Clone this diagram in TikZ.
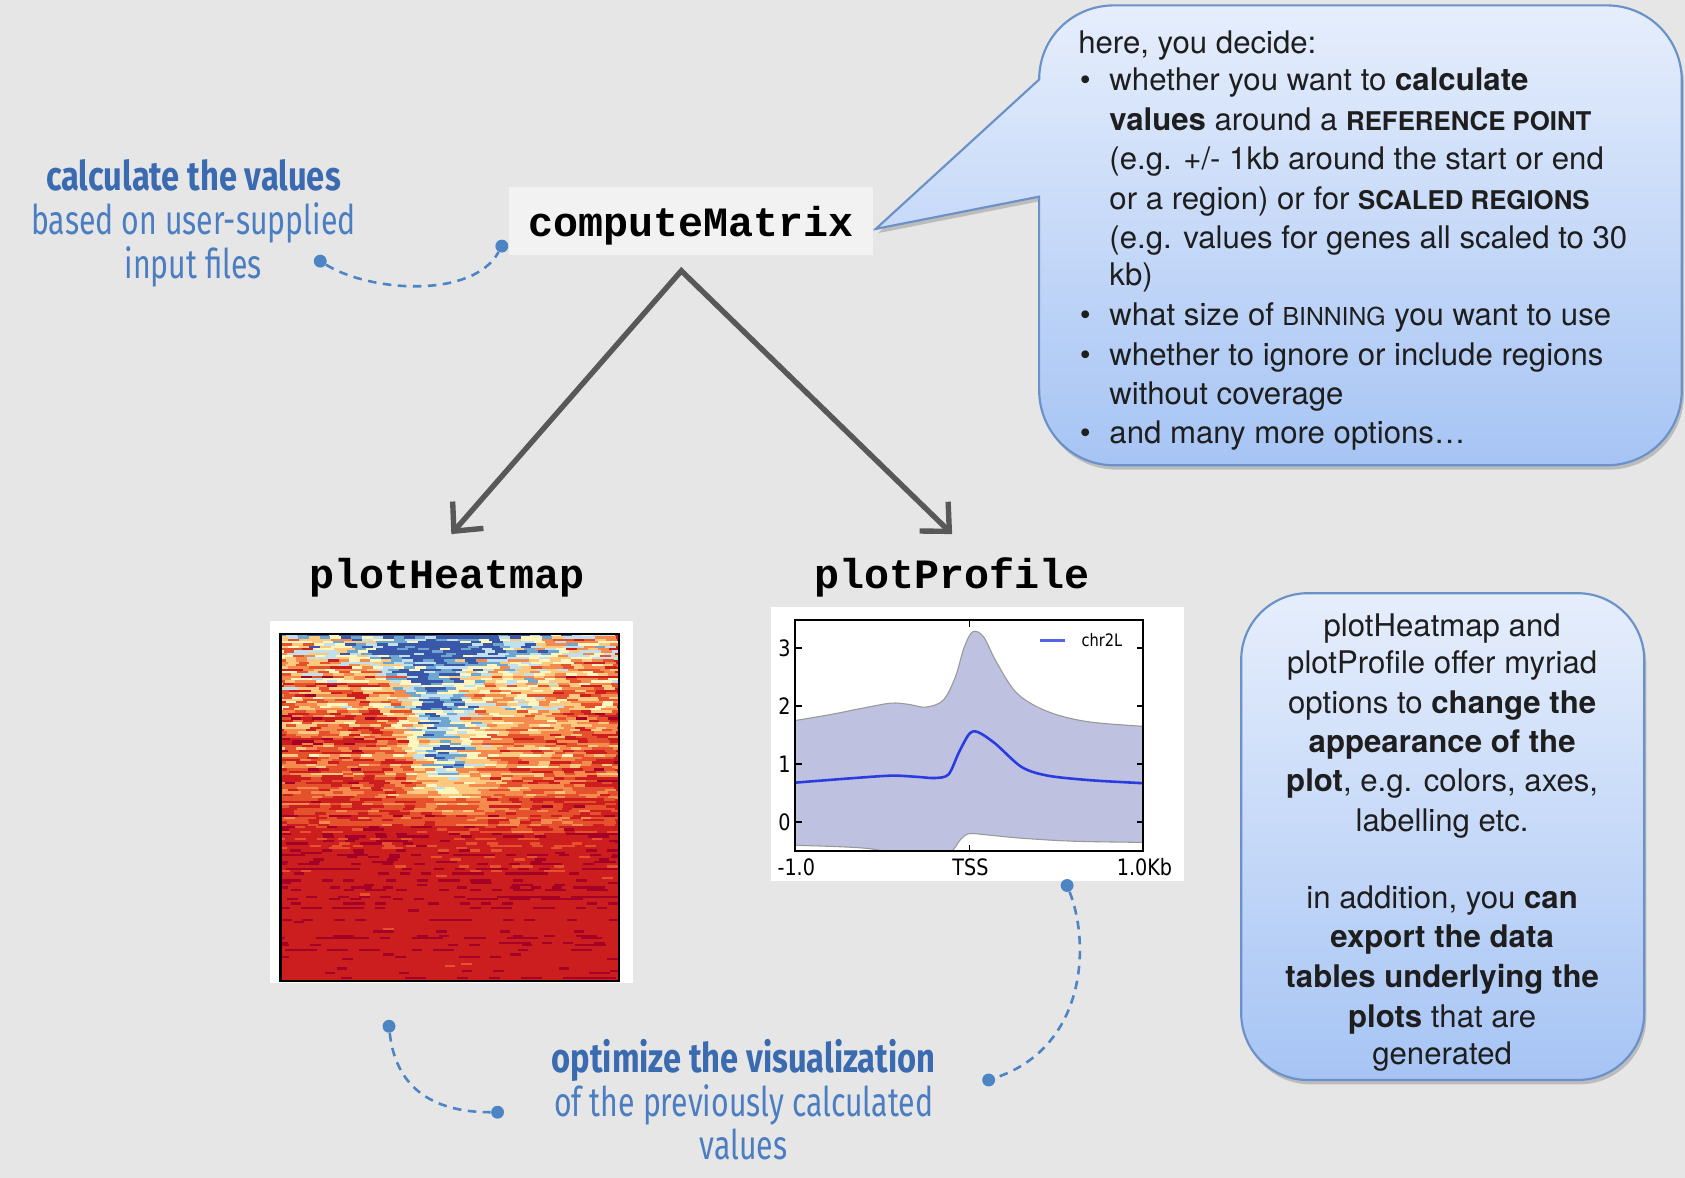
\documentclass[tikz,border=0pt]{standalone}
\usepackage{fontspec}
\setmainfont{TeX Gyre Heros}
\newfontfamily\monofont{Liberation Mono}
\newfontfamily\handfont[FakeStretch=0.8]{Fira Sans}
\newfontfamily\handlightfont[FakeStretch=0.74]{Fira Sans}
\newfontfamily\plotfont[FakeStretch=0.85]{DejaVu Sans}
\usetikzlibrary{arrows.meta}
\definecolor{bggray}{HTML}{E6E6E6}
\definecolor{boxgray}{HTML}{F2F2F2}
\definecolor{arrowgray}{HTML}{585858}
\definecolor{bubtop}{HTML}{E6EEFC}
\definecolor{bubbot}{HTML}{A6C4F4}
\definecolor{bubedge}{HTML}{6A92C8}
\definecolor{txtdark}{HTML}{1E1E1E}
\definecolor{handbold}{HTML}{3A6AB0}
\definecolor{handlight}{HTML}{4B7DC2}
\definecolor{dashblue}{HTML}{4D84C4}
\definecolor{bandfill}{HTML}{BEC1DF}
\definecolor{meanblue}{HTML}{2A3CE0}
\definecolor{hm0}{HTML}{A50026}
\definecolor{hm1}{HTML}{CC1E1E}
\definecolor{hm2}{HTML}{E5502D}
\definecolor{hm3}{HTML}{F58A4E}
\definecolor{hm4}{HTML}{FCC97E}
\definecolor{hm5}{HTML}{FEF6BE}
\definecolor{hm6}{HTML}{BFE0EC}
\definecolor{hm7}{HTML}{6EA6D0}
\definecolor{hm8}{HTML}{3A58AA}
\tikzset{
  mono/.style={font=\monofont\bfseries\fontsize{19.4}{22}\selectfont, text=black},
  cmbox/.style={mono, fill=boxgray, minimum width=169pt, minimum height=31.5pt, inner sep=0pt, text height=16pt, text depth=1.5pt},
  arr/.style={draw=arrowgray, line width=2.5pt, line join=miter,
     {Straight Barb[length=10pt,width=19pt]}-{Straight Barb[length=10pt,width=19pt]}},
  bubble/.style={draw=bubedge, line width=1pt, top color=bubtop, bottom color=bubbot},
  bubshadow/.style={fill=black, opacity=0.18},
  btxt/.style={font=\fontsize{14.5}{18}\selectfont, text=txtdark, inner sep=0pt},
  handb/.style={font=\handfont\bfseries\fontsize{19}{22}\selectfont, text=handbold, inner sep=0pt, anchor=base},
  handl/.style={font=\handlightfont\fontsize{19}{22}\selectfont, text=handlight, inner sep=0pt, anchor=base},
  dot/.style={circle, fill=dashblue, inner sep=0pt, minimum size=6pt},
  dashconn/.style={draw=dashblue, line width=1.2pt, dash pattern=on 4pt off 3pt},
  ptick/.style={font=\plotfont\fontsize{10.5}{12}\selectfont, text=black, inner sep=1pt},
  bandedge/.style={draw=black!40, line width=0.5pt},
}
\begin{document}
\begin{tikzpicture}[x=0.5pt,y=-0.5pt]
\useasboundingbox (0,0) rectangle (1568,1096);
\fill[bggray] (0,0) rectangle (1568,1096);

% ---------- big speech bubble ----------
\def\bubbleonepath{(815,213) -- (967,74) .. controls (967,35) and (998,5) .. (1037,5) -- (1495,5) .. controls (1534,5) and (1565,36) .. (1565,75) -- (1565,363) .. controls (1565,402) and (1534,433) .. (1495,433) -- (1037,433) .. controls (998,433) and (967,402) .. (967,363) -- (967,183) -- cycle}
\fill[bubshadow] [shift={(2,4)}] \bubbleonepath;
\path[bubble] \bubbleonepath;

\node[btxt, anchor=base west] (b0) at (1003,50) {here, you decide:};
\node[btxt, anchor=base] (bu1) at (1010,84) {\textbullet};
\node[btxt, anchor=base west] (b1) at (1032,84) {whether you want to \textbf{calculate}};
\node[btxt, anchor=base west] (b2) at (1032,121) {\textbf{values} around a {\fontsize{12}{14}\selectfont\bfseries REFERENCE POINT}};
\node[btxt, anchor=base west] (b3) at (1032,158) {(e.g. +/- 1kb around the start or end};
\node[btxt, anchor=base west] (b4) at (1032,195) {or a region) or for {\fontsize{12}{14}\selectfont\bfseries SCALED REGIONS}};
\node[btxt, anchor=base west] (b5) at (1032,231) {(e.g. values for genes all scaled to 30};
\node[btxt, anchor=base west] (b6) at (1032,266) {kb)};
\node[btxt, anchor=base] (bu2) at (1010,303) {\textbullet};
\node[btxt, anchor=base west] (b7) at (1032,303) {what size of {\fontsize{11.5}{14}\selectfont BINNING} you want to use};
\node[btxt, anchor=base] (bu3) at (1010,340) {\textbullet};
\node[btxt, anchor=base west] (b8) at (1032,340) {whether to ignore or include regions};
\node[btxt, anchor=base west] (b9) at (1032,376) {without coverage};
\node[btxt, anchor=base] (bu4) at (1010,413) {\textbullet};
\node[btxt, anchor=base west] (b10) at (1032,413) {and many more options\ldots};

% ---------- second bubble ----------
\fill[bubshadow, rounded corners=31pt] (1157,556) rectangle (1532,1009);
\path[bubble, rounded corners=31pt] (1155,552) rectangle (1530,1005);
\node[btxt, anchor=base] (c1) at (1342,592) {plotHeatmap and};
\node[btxt, anchor=base] (c2) at (1342,627) {plotProfile offer myriad};
\node[btxt, anchor=base] (c3) at (1342,664) {options to \textbf{change the}};
\node[btxt, anchor=base] (c4) at (1342,700) {\textbf{appearance of the}};
\node[btxt, anchor=base] (c5) at (1342,737) {\textbf{plot}, e.g. colors, axes,};
\node[btxt, anchor=base] (c6) at (1342,774) {labelling etc.};
\node[btxt, anchor=base] (c7) at (1342,845) {in addition, you \textbf{can}};
\node[btxt, anchor=base] (c8) at (1342,882) {\textbf{export the data}};
\node[btxt, anchor=base] (c9) at (1342,919) {\textbf{tables underlying the}};
\node[btxt, anchor=base] (c10) at (1342,956) {\textbf{plots} that are};
\node[btxt, anchor=base] (c11) at (1342,991) {generated};

% ---------- computeMatrix and arrows ----------
\node[cmbox] (cm) at (643,205.5) {computeMatrix};
\node[mono, anchor=base, inner sep=0pt] (ph) at (416,548) {plotHeatmap};
\node[mono, anchor=base, inner sep=0pt] (pp) at (886,548) {plotProfile};
\coordinate (apex) at (634,252);
\coordinate (tipL) at (420,497);
\coordinate (tipR) at (886,497);
\draw[arr] (tipL) -- (apex) -- (tipR);

% ---------- heatmap ----------
\fill[white] (251,578) rectangle (589,915);
\begin{scope}
\clip (261,590) rectangle (576,913);
\fill[hm1] (261,590) rectangle (576,913);
\pgfmathsetseed{4711}
\foreach \i in {0,...,149}{
  \pgfmathsetmacro{\hmt}{\i/150}
  \pgfmathsetmacro{\hmamp}{0.35+1.6*max(0,1-\hmt/0.7)}
  \pgfmathsetmacro{\hmrow}{rand*\hmamp*0.9}
  \pgfmathsetmacro{\hmbg}{1.35+3.0*max(0,1-\hmt/0.6)}
  \pgfmathsetmacro{\hmA}{4.4*min(1,max(0,(0.55-\hmt)/0.2))}
  \pgfmathsetmacro{\hmc}{0.42+0.16*\hmt}
  \pgfmathsetmacro{\hmw}{0.1+0.2*max(0,1-\hmt/0.12)}
  \pgfmathsetmacro{\hmY}{2.0*max(0,1-\hmt/0.7)}
  \pgfmathsetmacro{\hmsh}{rand*5}
  \foreach \j in {-1,...,31}{
    \pgfmathsetmacro{\hmx}{(\j+0.5)/32}
    \pgfmathsetmacro{\hmv}{\hmbg+\hmA*exp(-pow((\hmx-\hmc)/\hmw,2))+\hmY*exp(-pow((\hmx-0.68)/0.16,2))+(\hmrow)+rand*\hmamp*1.25}
    \pgfmathtruncatemacro{\hmlev}{max(0,min(8,\hmv))}
    \fill[hm\hmlev] (261+\j*9.84+\hmsh,590+\i*2.1533) rectangle ++(10.2,2.4);
  }
}
\end{scope}
\draw[black, line width=1pt] (261,590) rectangle (576,913);

% ---------- profile plot ----------
\fill[white] (717,565) rectangle (1102,820);
\begin{scope}
\clip (740,577) rectangle (1064,792);
\fill[bandfill] plot[smooth,tension=0.55] coordinates {(740,670.5) (772.4,665) (804.8,658.6) (829.1,654.3) (845.3,655.4) (861.5,658) (877.7,651.6) (889,630) (897,603) (905,588) (915,592.2) (926,613.8) (942.5,640.8) (958.7,654.3) (983,665) (1015.4,672) (1064,675.9)}
  -- plot[smooth,tension=0.55] coordinates {(1064,783.9) (999,782.8) (950.6,780) (918,776.9) (902,775.8) (894,781) (882.6,794) (853.4,797) (804.8,789.3) (740,786.6)} -- cycle;
\draw[bandedge] plot[smooth,tension=0.55] coordinates {(740,670.5) (772.4,665) (804.8,658.6) (829.1,654.3) (845.3,655.4) (861.5,658) (877.7,651.6) (889,630) (897,603) (905,588) (915,592.2) (926,613.8) (942.5,640.8) (958.7,654.3) (983,665) (1015.4,672) (1064,675.9)};
\draw[bandedge] plot[smooth,tension=0.55] coordinates {(1064,783.9) (999,782.8) (950.6,780) (918,776.9) (902,775.8) (894,781) (882.6,794) (853.4,797) (804.8,789.3) (740,786.6)};
\draw[meanblue, line width=1.2pt] plot[smooth,tension=0.5] coordinates {(740,728.3) (788.6,724.5) (829.1,721.8) (853.4,722.9) (869.6,724) (882.6,720.7) (892.3,700.2) (902,682.9) (910.1,681.3) (926.3,692.1) (950.6,713.7) (974.9,721.8) (1015.4,726.1) (1064,728.8)};
\end{scope}
\draw[black, line width=0.9pt] (740,577) rectangle (1064,792);
\foreach \yy in {603,657,711,765}{
  \draw[black, line width=0.6pt] (740,\yy) -- ++(6,0);
  \draw[black, line width=0.6pt] (1064,\yy) -- ++(-6,0);
}
\draw[black, line width=0.6pt] (902,792) -- ++(0,-6);
\draw[black, line width=0.6pt] (902,577) -- ++(0,6);
\node[ptick, anchor=east] (t3) at (738,603) {3};
\node[ptick, anchor=east] (t2) at (738,657) {2};
\node[ptick, anchor=east] (t1) at (738,711) {1};
\node[ptick, anchor=east] (t0) at (738,765) {0};
\node[ptick] (xl) at (741,807) {-1.0};
\node[ptick] (xm) at (903,807) {TSS};
\node[ptick] (xr) at (1065,807) {1.0Kb};
\draw[meanblue!80, line width=1.3pt] (968,596) -- (991,596);
\node[ptick, font=\plotfont\fontsize{8}{10}\selectfont, anchor=west] (lg) at (1004,596) {chr2L};

% ---------- handwritten annotations ----------
\node[handb] (h1) at (180,177.5) {calculate the values};
\node[handl] (h2) at (180,218.5) {based on user-supplied};
\node[handl] (h3) at (180,259) {input files};
\node[handb] (h4) at (692,998) {optimize the visualization};
\node[handl] (h5) at (692,1039) {of the previously calculated};
\node[handl] (h6) at (692,1079) {values};

\node[dot] (d1) at (298,243) {};
\node[dot] (d2) at (467,229) {};
\draw[dashconn] (d1) .. controls (345,272) and (440,278) .. (d2);
\node[dot] (d3) at (362,955) {};
\node[dot] (d4) at (463,1035) {};
\draw[dashconn] (d3) .. controls (368,1010) and (400,1035) .. (d4);
\node[dot] (d5) at (993,824) {};
\node[dot] (d6) at (920,1005) {};
\draw[dashconn] (d5) .. controls (1015,880) and (1010,975) .. (d6);
\end{tikzpicture}
\end{document}
